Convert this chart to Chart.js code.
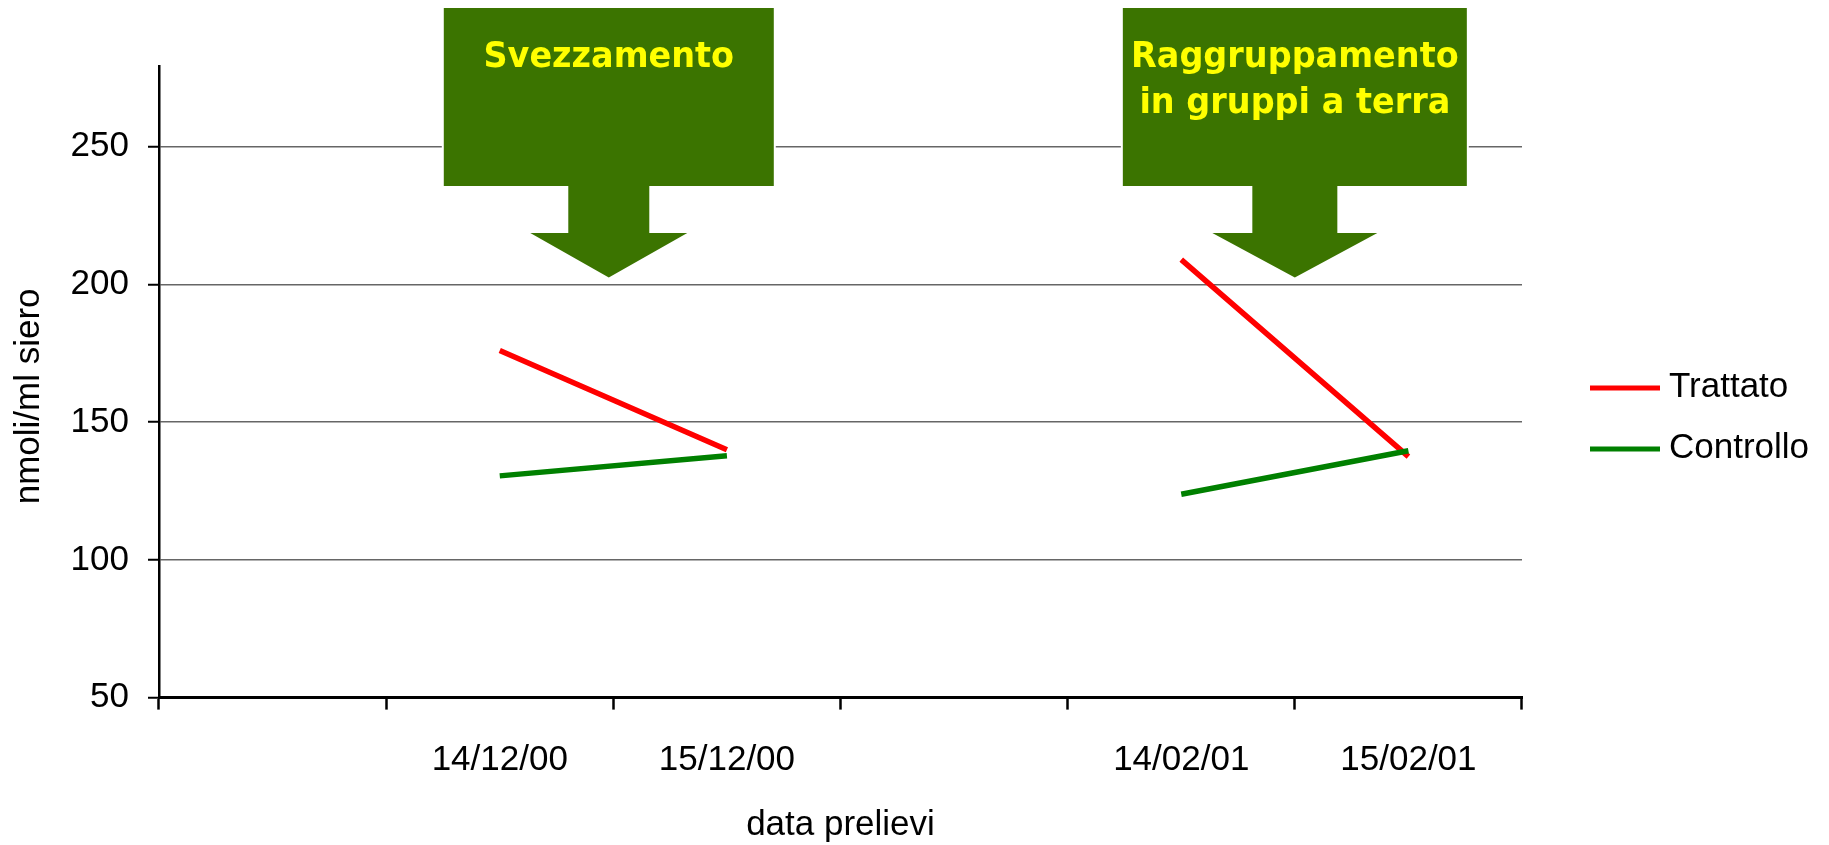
<!DOCTYPE html>
<html>
<head>
<meta charset="utf-8">
<script src="https://cdn.jsdelivr.net/npm/chart.js@4.4.0/dist/chart.umd.min.js"></script>
<style>
  body { margin: 0; background: #fff; }
  #wrap { width: 1829px; height: 845px; position: relative; }
</style>
</head>
<body>
<div id="wrap"><canvas id="myChart"></canvas></div>
<script>
const categories = ["", "14/12/00", "15/12/00", "", "14/02/01", "15/02/01"];
const trattato = [null, 176, 140, null, 209, 137.5];
const controllo = [null, 130.5, 137.8, null, 123.8, 139.6];
const yTicks = [50, 100, 150, 200, 250];
const calloutTexts = [["Svezzamento"], ["Raggruppamento", "in gruppi a terra"]];
const calloutAt = [1.48, 4.5];

const FONT = "'Liberation Sans', Arial, sans-serif";
const FS = 35;

// green arrow boxes over the chart + legend on the right
const calloutPlugin = {
  id: "callouts",
  afterDraw(chart) {
    const ctx = chart.ctx;
    const x = chart.scales.x;
    const shapes = [
      { w: 330, stem: 81, head: 157 },
      { w: 344, stem: 85, head: 165 },
    ];
    calloutTexts.forEach((lines, i) => {
      const cx = x.getPixelForValue(calloutAt[i]);
      const s = shapes[i];
      const top = 8, boxBottom = 186, stemBottom = 233, tip = 277.6;
      ctx.save();
      ctx.beginPath();
      ctx.moveTo(cx - s.w / 2, top);
      ctx.lineTo(cx + s.w / 2, top);
      ctx.lineTo(cx + s.w / 2, boxBottom);
      ctx.lineTo(cx + s.stem / 2, boxBottom);
      ctx.lineTo(cx + s.stem / 2, stemBottom);
      ctx.lineTo(cx + s.head / 2, stemBottom);
      ctx.lineTo(cx, tip);
      ctx.lineTo(cx - s.head / 2, stemBottom);
      ctx.lineTo(cx - s.stem / 2, stemBottom);
      ctx.lineTo(cx - s.stem / 2, boxBottom);
      ctx.lineTo(cx - s.w / 2, boxBottom);
      ctx.closePath();
      ctx.strokeStyle = "#fff";
      ctx.lineWidth = 4;
      ctx.stroke();
      ctx.fillStyle = "#3B7400";
      ctx.fill();
      // squeeze the bold text a little, the original is a narrow bold face
      ctx.translate(cx, 0);
      ctx.scale(0.93, 1);
      ctx.fillStyle = "#FFFF00";
      ctx.font = "bold 36px 'DejaVu Sans', sans-serif";
      ctx.textAlign = "center";
      ctx.textBaseline = "alphabetic";
      lines.forEach((t, j) => ctx.fillText(t, 0, 67 + j * 46));
      ctx.restore();
    });

    const ca = chart.chartArea;
    const ys = [388, 449];
    chart.data.datasets.forEach((ds, i) => {
      ctx.save();
      ctx.strokeStyle = ds.borderColor;
      ctx.lineWidth = 5;
      ctx.beginPath();
      ctx.moveTo(ca.right + 68, ys[i]);
      ctx.lineTo(ca.right + 138, ys[i]);
      ctx.stroke();
      ctx.fillStyle = "#000";
      ctx.font = FS + "px " + FONT;
      ctx.textAlign = "left";
      ctx.textBaseline = "middle";
      ctx.fillText(ds.label, ca.right + 147, ys[i] - 1);
      ctx.restore();
    });
  },
};

new Chart(document.getElementById("myChart"), {
  type: "line",
  data: {
    labels: categories,
    datasets: [
      {
        label: "Trattato",
        data: trattato,
        borderColor: "#FF0000",
        borderWidth: 5.5,
        pointRadius: 0,
        borderCapStyle: "butt",
        spanGaps: false,
        order: 1,
      },
      {
        label: "Controllo",
        data: controllo,
        borderColor: "#008000",
        borderWidth: 5.5,
        pointRadius: 0,
        borderCapStyle: "butt",
        spanGaps: false,
        order: 0,
      },
    ],
  },
  options: {
    responsive: true,
    maintainAspectRatio: false,
    animation: false,
    layout: { padding: { top: 66, right: 307, bottom: 0, left: 0 } },
    plugins: {
      legend: { display: false },
      tooltip: { enabled: false },
    },
    scales: {
      x: {
        offset: true,
        grid: {
          offset: true,
          drawOnChartArea: false,
          tickLength: 12,
          tickColor: "#000",
          tickWidth: 2.5,
        },
        border: { color: "#000", width: 3 },
        ticks: {
          color: "#000",
          font: { family: FONT, size: FS },
          padding: 30,
          maxRotation: 0,
          autoSkip: false,
        },
        title: {
          display: true,
          text: "data prelievi",
          color: "#000",
          font: { family: FONT, size: FS, lineHeight: 1.1 },
          padding: { top: 0, bottom: 0 },
        },
        afterFit: (s) => { s.height = 147.4; },
      },
      y: {
        min: 50,
        max: 279.3,
        afterBuildTicks: (s) => { s.ticks = yTicks.map((v) => ({ value: v })); },
        grid: {
          color: "#666666",
          lineWidth: 1.5,
          tickLength: 11,
          tickColor: "#000",
          tickWidth: 2,
        },
        border: { color: "#000", width: 2.5 },
        ticks: {
          color: "#000",
          font: { family: FONT, size: FS },
          padding: 19,
        },
        title: {
          display: true,
          text: "nmoli/ml siero\u00a0\u00a0\u00a0",
          color: "#000",
          font: { family: FONT, size: FS },
          padding: { top: 8, bottom: 0 },
        },
        afterFit: (s) => { s.width = 159; },
      },
    },
  },
  plugins: [calloutPlugin],
});
</script>
</body>
</html>
